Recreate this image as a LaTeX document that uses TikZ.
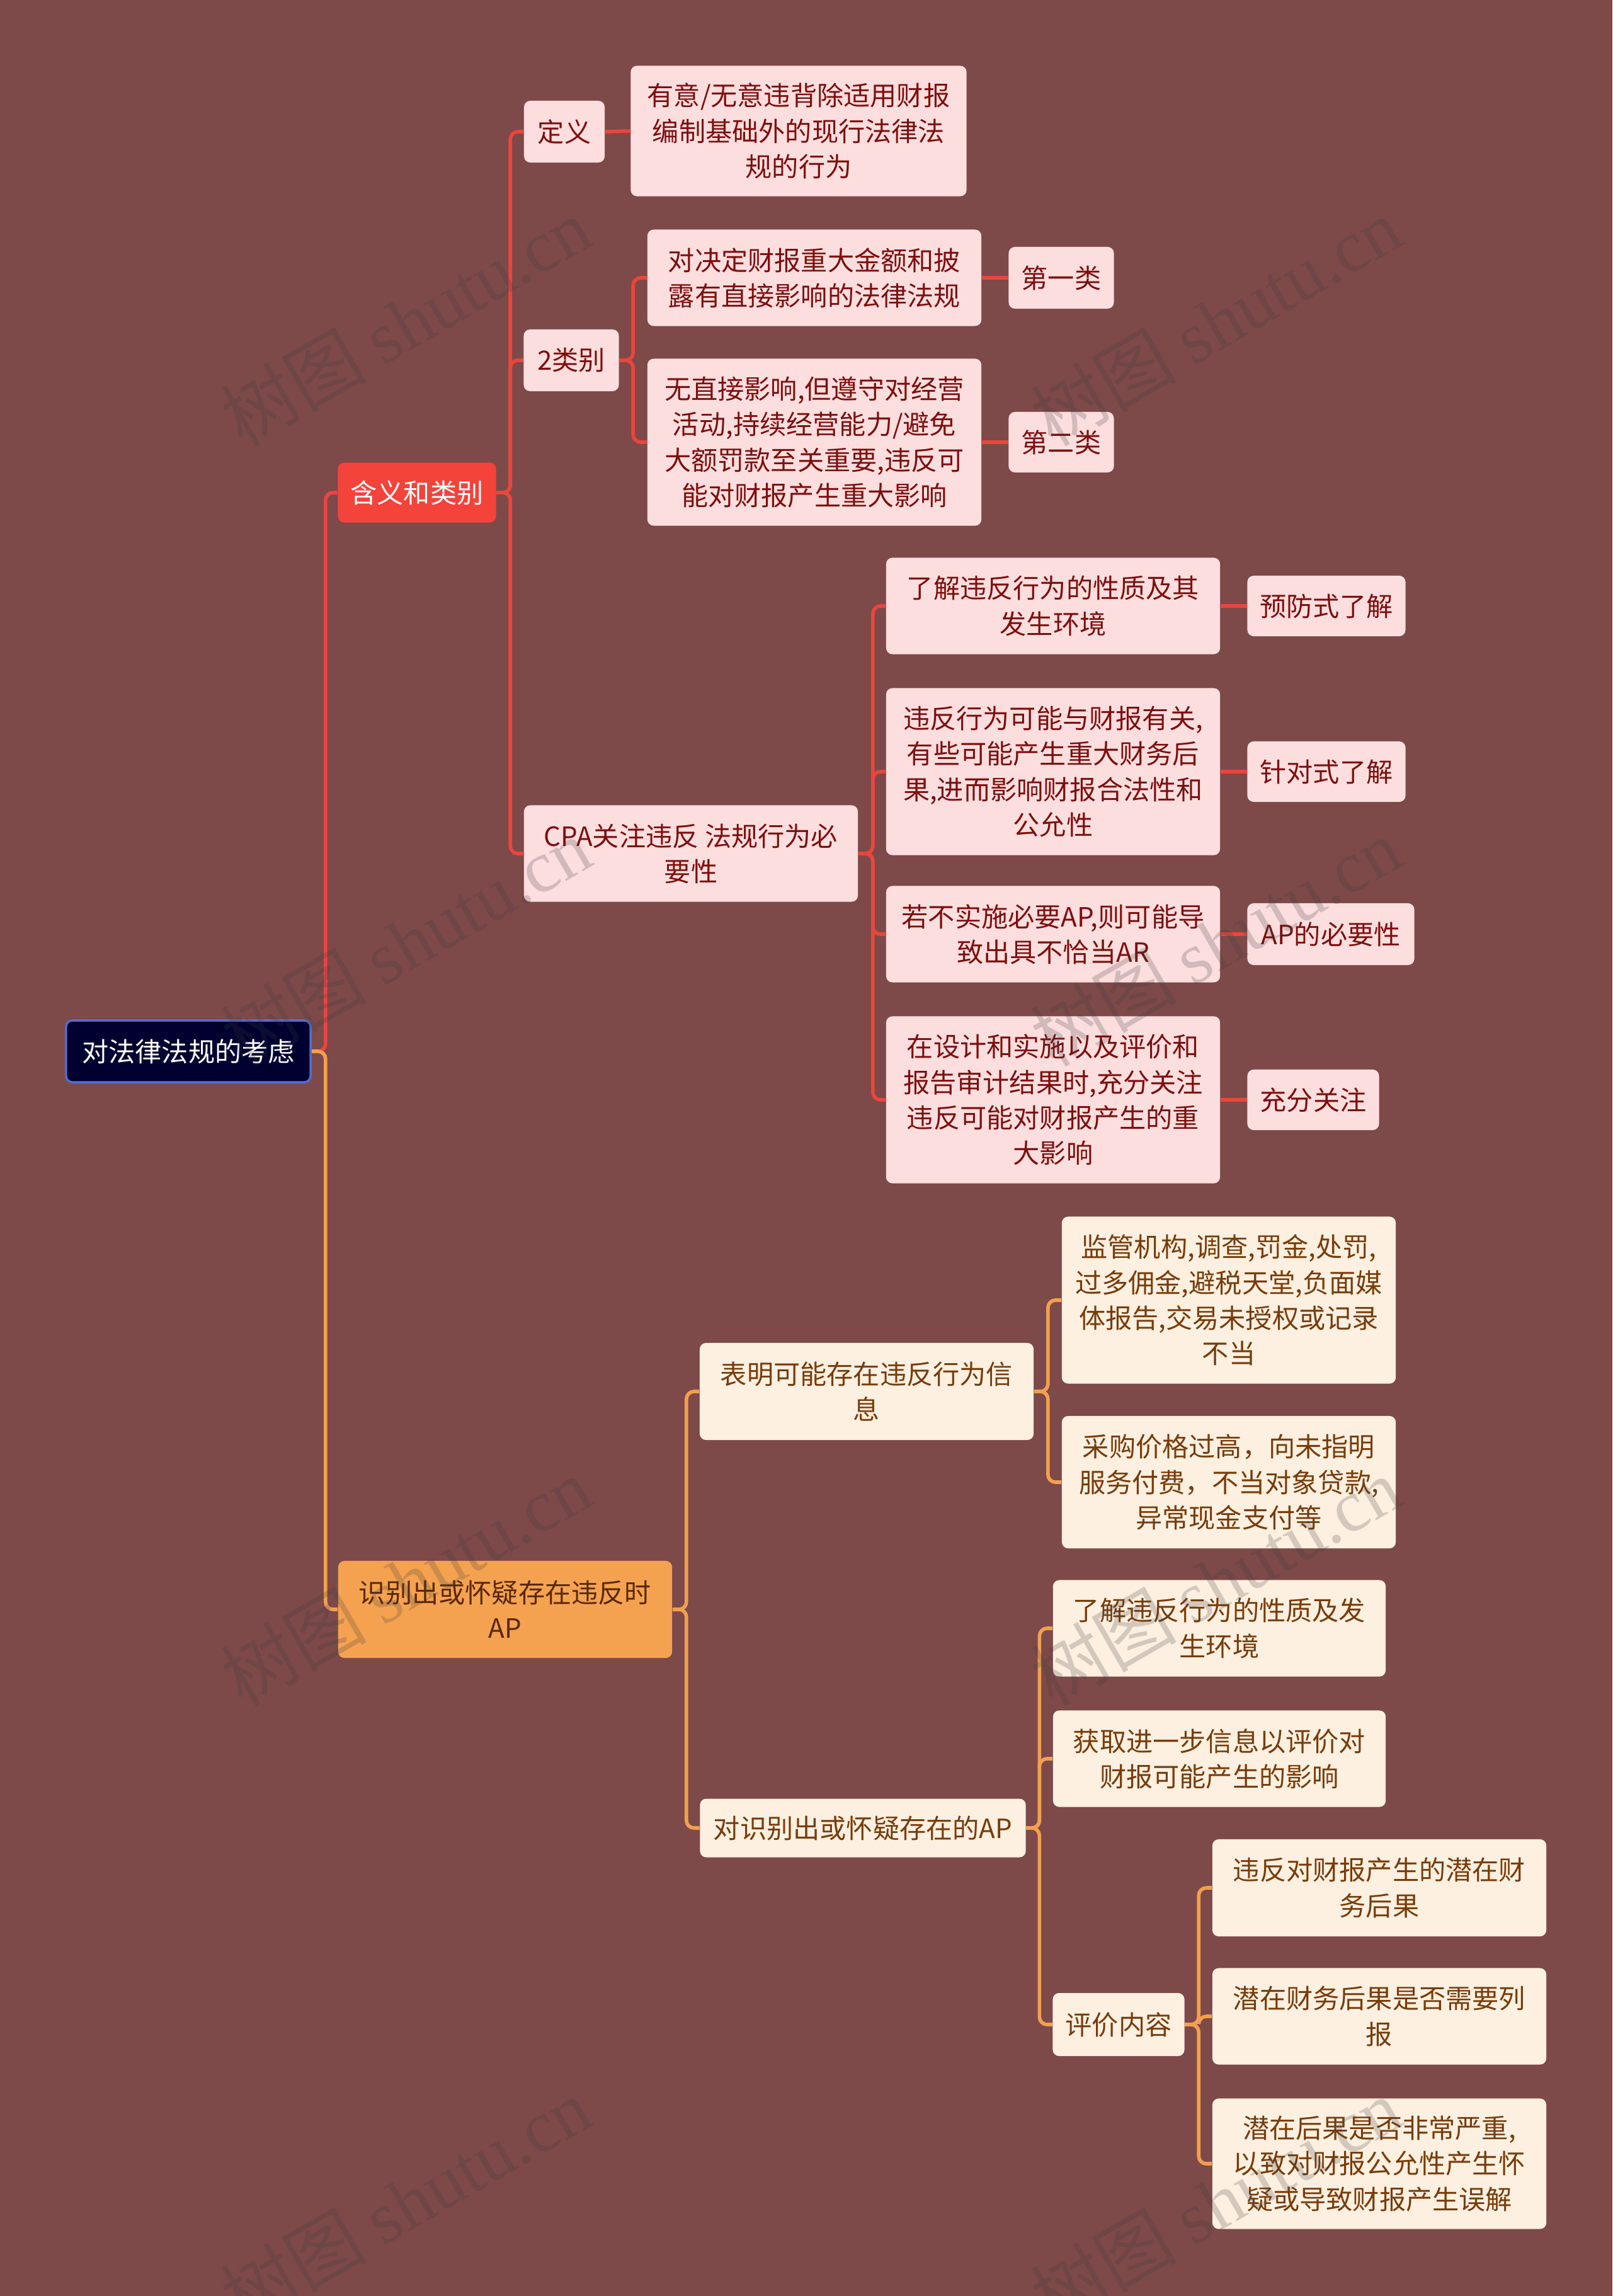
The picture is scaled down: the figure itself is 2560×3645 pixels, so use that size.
\documentclass[tikz,border=0pt]{standalone}
\usepackage{fontspec}
\setmainfont{Noto Sans CJK SC}
\newfontfamily\wmfont{Liberation Serif}
\definecolor{bgc}{RGB}{126,73,73}
\definecolor{rootfill}{RGB}{0,0,48}
\definecolor{rootdraw}{RGB}{80,110,210}
\definecolor{redfill}{RGB}{243,67,58}
\definecolor{orfill}{RGB}{245,162,80}
\definecolor{ortext}{RGB}{90,40,10}
\definecolor{pinkfill}{RGB}{253,222,222}
\definecolor{pinktext}{RGB}{125,15,15}
\definecolor{creamfill}{RGB}{253,240,225}
\definecolor{creamtext}{RGB}{120,60,10}
\definecolor{redline}{RGB}{234,70,60}
\definecolor{orline}{RGB}{242,160,80}
\definecolor{wmcol}{RGB}{60,60,60}
\pgfdeclarelayer{back}
\pgfdeclarelayer{lines}
\pgfsetlayers{back,lines,main}
\tikzset{
  base/.style={rounded corners=0.1cm, inner sep=0pt, align=center,
    font=\fontsize{12pt}{16pt}\selectfont},
  sz/.style 2 args={minimum width=#1*0.28453pt, minimum height=#2*0.28453pt},
  rootbox/.style={base, fill=rootfill, draw=rootdraw, line width=1pt, text=white},
  redbox/.style={base, fill=redfill, text=white},
  orbox/.style={base, fill=orfill, text=ortext},
  pinkbox/.style={base, fill=pinkfill, text=pinktext},
  creambox/.style={base, fill=creamfill, text=creamtext},
  rl/.style={draw=redline, line width=1.6pt, rounded corners=0.12cm},
  ol/.style={draw=orline, line width=1.6pt, rounded corners=0.12cm},
  wm/.style={text=wmcol, text opacity=0.22, rotate=30, inner sep=0pt,
    font=\fontsize{33pt}{33pt}\selectfont}
}
\begin{document}
\begin{tikzpicture}[x=0.01cm, y=-0.01cm]
\begin{pgfonlayer}{back}
\fill[bgc] (0,0) rectangle (2560,3645);
\end{pgfonlayer}
\useasboundingbox (0,0) rectangle (2560,3645);

% root and level 1
\node[rootbox, sz={388}{98}] (root) at (299,1669) {对法律法规的考虑};
\node[redbox, sz={251}{95}] (A) at (662,782) {含义和类别};
\node[orbox, sz={530}{154}] (B) at (802,2555) {识别出或怀疑存在违反时\\AP};

% branch A
\node[pinkbox, sz={128}{98}] (A1) at (896,209) {定义};
\node[pinkbox, sz={533}{207}] (A1a) at (1268,208) {有意/无意违背除适用财报\\编制基础外的现行法律法\\规的行为};
\node[pinkbox, sz={151}{98}] (A2) at (907,572) {2类别};
\node[pinkbox, sz={530}{153}] (A2a) at (1293,441) {对决定财报重大金额和披\\露有直接影响的法律法规};
\node[pinkbox, sz={167}{98}] (A2a1) at (1685,441) {第一类};
\node[pinkbox, sz={530}{265}] (A2b) at (1293,702) {无直接影响,但遵守对经营\\活动,持续经营能力/避免\\大额罚款至关重要,违反可\\能对财报产生重大影响};
\node[pinkbox, sz={167}{96}] (A2b1) at (1685,702) {第二类};
\node[pinkbox, sz={530}{153}] (A3) at (1097,1355) {CPA关注违反 法规行为必\\要性};
\node[pinkbox, sz={530}{153}] (A3a) at (1672,962) {了解违反行为的性质及其\\发生环境};
\node[pinkbox, sz={251}{96}] (A3a1) at (2106,962) {预防式了解};
\node[pinkbox, sz={530}{265}] (A3b) at (1672,1225) {违反行为可能与财报有关,\\有些可能产生重大财务后\\果,进而影响财报合法性和\\公允性};
\node[pinkbox, sz={251}{96}] (A3b1) at (2106,1225) {针对式了解};
\node[pinkbox, sz={530}{153}] (A3c) at (1672,1483) {若不实施必要AP,则可能导\\致出具不恰当AR};
\node[pinkbox, sz={265}{98}] (A3c1) at (2113,1483) {AP的必要性};
\node[pinkbox, sz={530}{265}] (A3d) at (1672,1746) {在设计和实施以及评价和\\报告审计结果时,充分关注\\违反可能对财报产生的重\\大影响};
\node[pinkbox, sz={209}{96}] (A3d1) at (2085,1746) {充分关注};

% branch B
\node[creambox, sz={530}{154}] (B1) at (1376,2209) {表明可能存在违反行为信\\息};
\node[creambox, sz={530}{265}] (B1a) at (1951,2064) {监管机构,调查,罚金,处罚,\\过多佣金,避税天堂,负面媒\\体报告,交易未授权或记录\\不当};
\node[creambox, sz={530}{210}] (B1b) at (1951,2353) {采购价格过高，向未指明\\服务付费，不当对象贷款,\\异常现金支付等};
\node[creambox, sz={517}{93}] (B2) at (1370,2902) {对识别出或怀疑存在的AP};
\node[creambox, sz={528}{153}] (B2a) at (1936,2585) {了解违反行为的性质及发\\生环境};
\node[creambox, sz={528}{153}] (B2b) at (1936,2792) {获取进一步信息以评价对\\财报可能产生的影响};
\node[creambox, sz={209}{100}] (B2c) at (1776,3214) {评价内容};
\node[creambox, sz={530}{154}] (B2c1) at (2190,2997) {违反对财报产生的潜在财\\务后果};
\node[creambox, sz={530}{153}] (B2c2) at (2190,3201) {潜在财务后果是否需要列\\报};
\node[creambox, sz={530}{207}] (B2c3) at (2190,3435) {潜在后果是否非常严重,\\以致对财报公允性产生怀\\疑或导致财报产生误解};

% connectors
\begin{pgfonlayer}{lines}
\draw[rl] (root.east) -- ++(22,0) |- (A.west);
\draw[ol] (root.east) -- ++(22,0) |- (B.west);

\draw[rl] (A.east) -- ++(22,0) |- (A1.west);
\draw[rl] (A.east) -- ++(22,0) |- (A2.west);
\draw[rl] (A.east) -- ++(22,0) |- (A3.west);
\draw[rl] (A1.east) -- (A1a.west);
\draw[rl] (A2.east) -- ++(22,0) |- (A2a.west);
\draw[rl] (A2.east) -- ++(22,0) |- (A2b.west);
\draw[rl] (A2a.east) -- (A2a1.west);
\draw[rl] (A2b.east) -- (A2b1.west);
\draw[rl] (A3.east) -- ++(23,0) |- (A3a.west);
\draw[rl] (A3.east) -- ++(23,0) |- (A3b.west);
\draw[rl] (A3.east) -- ++(23,0) |- (A3c.west);
\draw[rl] (A3.east) -- ++(23,0) |- (A3d.west);
\draw[rl] (A3a.east) -- (A3a1.west);
\draw[rl] (A3b.east) -- (A3b1.west);
\draw[rl] (A3c.east) -- (A3c1.west);
\draw[rl] (A3d.east) -- (A3d1.west);

\draw[ol] (B.east) -- ++(22,0) |- (B1.west);
\draw[ol] (B.east) -- ++(22,0) |- (B2.west);
\draw[ol] (B1.east) -- ++(22,0) |- (B1a.west);
\draw[ol] (B1.east) -- ++(22,0) |- (B1b.west);
\draw[ol] (B2.east) -- ++(21,0) |- (B2a.west);
\draw[ol] (B2.east) -- ++(21,0) |- (B2b.west);
\draw[ol] (B2.east) -- ++(21,0) |- (B2c.west);
\draw[ol] (B2c.east) -- ++(22,0) |- (B2c1.west);
\draw[ol] (B2c.east) -- ++(22,0) |- (B2c2.west);
\draw[ol] (B2c.east) -- ++(22,0) |- (B2c3.west);
\end{pgfonlayer}

% watermarks
\foreach \wx/\wy [count=\i] in {644/510,1930/510,644/1495,1930/1495,644/2510,1930/2510,644/3495,1930/3495}{
  \node[wm] (wm\i) at (\wx,\wy) {树图 {\wmfont shutu.cn}};
}
\end{tikzpicture}
\end{document}
